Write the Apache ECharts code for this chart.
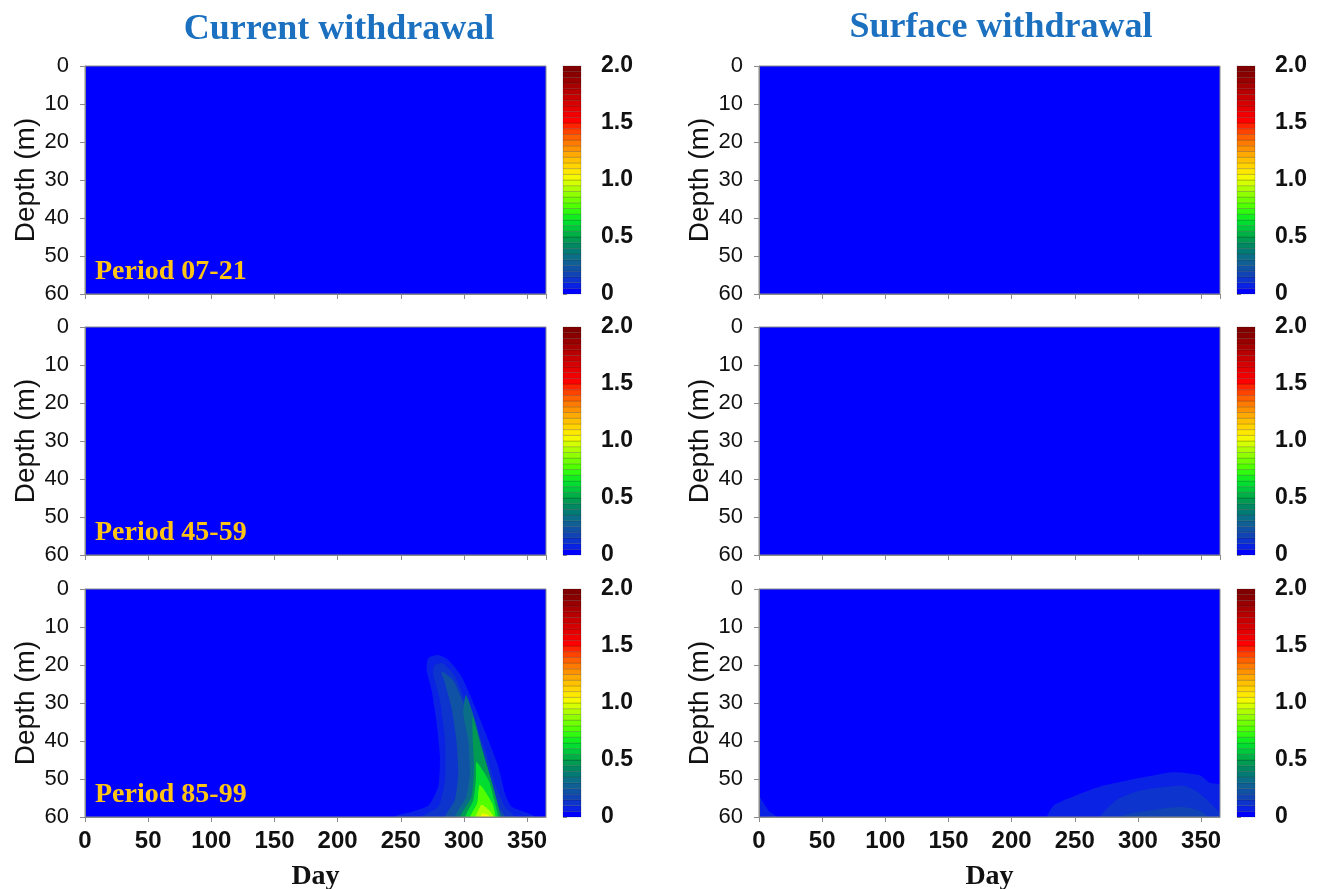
<!DOCTYPE html>
<html>
<head>
<meta charset="utf-8">
<title>Withdrawal contours</title>
<script src="https://cdn.jsdelivr.net/npm/echarts@6/dist/echarts.min.js"></script>
<style>
  html, body { margin: 0; padding: 0; background: #fff; }
  #chart { width: 1319px; height: 889px; }
</style>
</head>
<body>
<div id="chart"></div>
<script>
// axis ranges
var dayRange = [0, 365];
var depthRange = [0, 60];

// colour bar: band edges and the colour of the band starting at each edge
var barEdges = [0, 0.05, 0.1, 0.15, 0.2, 0.25, 0.3, 0.35, 0.4, 0.45,
  0.5, 0.55, 0.6, 0.65, 0.7, 0.75, 0.8, 0.85, 0.9, 0.95,
  1.0, 1.05, 1.1, 1.15, 1.2, 1.25, 1.3, 1.35, 1.4, 1.45,
  1.5, 1.55, 1.6, 1.65, 1.7, 1.75, 1.8, 1.85, 1.9, 1.95, 2.0];
var barColors = ['#0000ff', '#0a22e4', '#0d34cc', '#1044b4', '#1052a4', '#106096', '#0a6e88', '#047a74', '#008862', '#009a52',
  '#00b046', '#00c83c', '#00dc30', '#10ee20', '#30fa10', '#50ff00', '#70ff00', '#90ff00', '#b0ff00', '#d4ff00',
  '#f4f800', '#ffe800', '#ffd400', '#ffc000', '#ffaa00', '#ff9200', '#ff7a00', '#ff6000', '#ff4400', '#ff2400',
  '#ff0000', '#f20000', '#e40000', '#d60000', '#c80000', '#b80000', '#a80000', '#980000', '#8a0000', '#800000', '#800000'];

// contour rings as [day, depth], outermost first
var cur8599Levels = [0.05, 0.1, 0.2, 0.3, 0.45, 0.6, 0.75, 0.9, 1.0];
var cur8599Rings = [
  [[245, 60], [259, 58.6], [272, 57], [279.7, 52], [281, 44], [278.4, 35.3], [274.4, 26.6], [270.5, 21.3], [271.8, 18.2],
   [279.7, 17.4], [287.7, 18.7], [298.2, 23.1], [308.8, 31], [319.3, 39.7], [327.3, 46.8], [332.5, 53.8], [337.8, 57.3], [351, 59], [356, 60]],
  [[266.5, 60], [279.7, 57.3], [285, 50.3], [285, 39.7], [281, 29.2], [275.5, 22.2], [277, 20], [283, 19.5],
   [293, 23], [306, 33.6], [316.5, 42], [324.4, 51], [332.5, 57.3], [340, 60]],
  [[285, 60], [292.8, 55.5], [295.5, 48.5], [294, 39.7], [290, 31], [285, 24.8], [282.3, 21.7],
   [291.5, 24], [300.8, 31], [311.4, 41.5], [319.3, 50.3], [327.3, 57.3], [332.5, 60]],
  [[292.8, 60], [302, 54.6], [304.7, 48.5], [303.4, 39.7], [299.5, 32.7], [301.6, 27.9],
   [308, 33.6], [315, 42.4], [322, 51], [327, 58], [330, 60]],
  [[297, 60], [306, 54.6], [308, 46.8], [307, 39.7], [307, 33.6], [312, 39.7], [318.5, 46.8], [324, 53], [329, 60]],
  [[301, 60], [307.5, 55.5], [309.5, 50], [310, 45.5], [319.5, 50.3], [324, 55.5], [327, 60]],
  [[305, 60], [310.5, 56.4], [312.5, 51.5], [322.5, 56.4], [325, 60]],
  [[309, 60], [311, 58.6], [314, 56.8], [321, 58.6], [323.5, 60]],
  [[313, 60], [315, 59], [321, 60]]
];
var surf8599Levels = [0.05, 0.05, 0.1, 0.15];
var surf8599Rings = [
  [[0, 54.5], [3, 56], [8, 58.5], [14, 60], [0, 60]],
  [[228, 60], [234, 56.8], [252, 54.2], [270, 52], [302, 49.7], [328, 48.2], [349, 49], [357, 51], [365, 51.6], [365, 60]],
  [[270, 60], [283, 55.5], [302, 53], [336, 51.8], [349, 53.8], [365, 59], [365, 60]],
  [[286, 60], [315, 58], [336, 57.4], [349, 58.4], [355, 60]]
];

var periodNames = ['Period 07-21', 'Period 45-59', 'Period 85-99'];
var columnNames = ['Current withdrawal', 'Surface withdrawal'];

var sans = "'Liberation Sans', Arial, sans-serif";
var serif = "'Liberation Serif', 'Times New Roman', serif";

var panels = [
  { col: 0, row: 0, levels: [], rings: [] },
  { col: 1, row: 0, levels: [], rings: [] },
  { col: 0, row: 1, levels: [], rings: [] },
  { col: 1, row: 1, levels: [], rings: [] },
  { col: 0, row: 2, levels: cur8599Levels, rings: cur8599Rings },
  { col: 1, row: 2, levels: surf8599Levels, rings: surf8599Rings }
];

var colLeft = [85, 759];
var barLeft = [563, 1237];
var rowTop = [66, 327, 589];
var plotW = 461, plotH = 228, barW = 18;

var grids = [], xAxes = [], yAxes = [], series = [], graphics = [];

function plotItem(rings) {
  return function (params, api) {
    var k = params.dataIndex;
    var fill = api.visual('color');
    if (k === 0) {
      // the whole field at its base level
      var a = api.coord([dayRange[0], depthRange[0]]);
      var b = api.coord([dayRange[1], depthRange[1]]);
      return { type: 'rect', shape: { x: a[0], y: a[1], width: b[0] - a[0], height: b[1] - a[1] }, style: { fill: fill } };
    }
    var pts = rings[k - 1].map(function (p) { return api.coord(p); });
    // close the ring below the bottom edge (clipped away) so smoothing keeps its foot straight
    var first = pts[0], last = pts[pts.length - 1];
    pts.push([last[0], last[1] + 25], [first[0], first[1] + 25]);
    return { type: 'polygon', shape: { points: pts, smooth: 0.2 }, style: { fill: fill } };
  };
}

function barItem(params, api) {
  var a = api.coord([0, api.value(1)]);
  var b = api.coord([1, api.value(0)]);
  return {
    type: 'rect',
    shape: { x: a[0], y: a[1], width: b[0] - a[0], height: b[1] - a[1] },
    style: { fill: api.visual('color'), stroke: 'rgba(0,0,0,0.35)', lineWidth: 0.5 }
  };
}

var barData = barEdges.slice(0, -1).map(function (e, i) { return [e, barEdges[i + 1]]; });

panels.forEach(function (p, i) {
  var g = i * 2;
  var bottom = p.row === 2;
  grids.push({
    left: colLeft[p.col], top: rowTop[p.row], width: plotW, height: plotH,
    show: true, borderColor: '#8a8a8a', borderWidth: 1, backgroundColor: 'transparent', z: 5,
    containLabel: false, outerBoundsMode: 'none'
  });
  grids.push({
    left: barLeft[p.col], top: rowTop[p.row], width: barW, height: plotH,
    containLabel: false, outerBoundsMode: 'none'
  });
  xAxes.push({
    gridIndex: g, type: 'value', min: dayRange[0], max: dayRange[1], interval: 50, z: 10, position: 'bottom',
    axisLine: { show: true, onZero: false, lineStyle: { color: '#8a8a8a', width: 1 } },
    axisTick: { show: true, length: 5, lineStyle: { color: '#8a8a8a' } },
    axisLabel: { show: bottom, showMaxLabel: false, fontSize: 24, fontWeight: 'bold', color: '#111', fontFamily: sans, margin: 12 },
    splitLine: { show: false },
    name: bottom ? 'Day' : '', nameLocation: 'middle', nameGap: 46,
    nameTextStyle: { fontSize: 28, fontWeight: 'bold', color: '#111', fontFamily: serif }
  });
  yAxes.push({
    gridIndex: g, type: 'value', min: depthRange[0], max: depthRange[1], interval: 10, inverse: true, z: 10, position: 'left',
    axisLine: { show: true, onZero: false, lineStyle: { color: '#8a8a8a', width: 1 } },
    axisTick: { show: true, length: 5, lineStyle: { color: '#8a8a8a' } },
    axisLabel: { fontSize: 22, color: '#111', fontFamily: sans, margin: 16 },
    splitLine: { show: false },
    name: 'Depth (m)', nameLocation: 'middle', nameGap: 44, nameRotate: 90,
    nameTextStyle: { fontSize: 28, color: '#111', fontFamily: sans }
  });
  xAxes.push({ gridIndex: g + 1, type: 'value', min: 0, max: 1, show: false });
  yAxes.push({
    gridIndex: g + 1, type: 'value', min: 0, max: 2, interval: 0.5, position: 'right',
    axisLine: { show: false },
    axisTick: { show: true, length: 4, lineStyle: { color: '#8a8a8a' } },
    axisLabel: {
      fontSize: 23, fontWeight: 'bold', color: '#111', fontFamily: sans, margin: 20,
      formatter: function (v) { return v === 0 ? '0' : v.toFixed(1); }
    },
    splitLine: { show: false }
  });
  series.push({
    type: 'custom', xAxisIndex: g, yAxisIndex: g, clip: true, z: 2,
    renderItem: plotItem(p.rings),
    data: [[0, 0]].concat(p.levels.map(function (l, j) { return [l, j + 1]; }))
  });
  series.push({
    type: 'custom', xAxisIndex: g + 1, yAxisIndex: g + 1, z: 2,
    renderItem: barItem,
    data: barData
  });
  if (p.col === 0) {
    graphics.push({
      type: 'text', x: colLeft[0] + 10, y: rowTop[p.row] + plotH - 22, z: 20,
      style: { text: periodNames[p.row], font: 'bold 28px ' + serif, fill: '#ffc414', textVerticalAlign: 'middle' }
    });
  }
});

graphics.push({
  type: 'text', x: 339, y: 30,
  style: { text: columnNames[0], font: 'bold 36px ' + serif, fill: '#1b70c0', textAlign: 'center', textVerticalAlign: 'middle' }
});
graphics.push({
  type: 'text', x: 1001, y: 28,
  style: { text: columnNames[1], font: 'bold 36px ' + serif, fill: '#1b70c0', textAlign: 'center', textVerticalAlign: 'middle' }
});

var chart = echarts.init(document.getElementById('chart'), null, { renderer: 'canvas' });
chart.setOption({
  backgroundColor: '#ffffff',
  animation: false,
  grid: grids,
  xAxis: xAxes,
  yAxis: yAxes,
  visualMap: {
    type: 'continuous', show: false, min: 0, max: 2, dimension: 0,
    seriesIndex: series.map(function (s, i) { return i; }),
    inRange: { color: barColors }
  },
  series: series,
  graphic: graphics
});
</script>
</body>
</html>
